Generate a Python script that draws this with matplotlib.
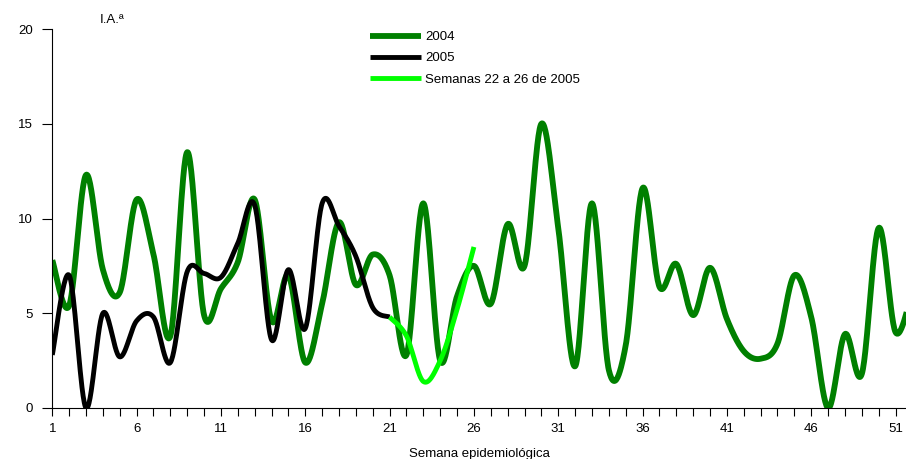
import numpy as np
import matplotlib
matplotlib.use("Agg")
import matplotlib.pyplot as plt

weeks_2004 = list(range(1, 53))
ia_2004 = [7.8, 5.4, 12.3, 7.3, 6.1, 11.0, 8.1, 3.8, 13.5, 4.9,
           6.3, 7.7, 11.0, 4.6, 7.0, 2.4, 5.5, 9.8, 6.5, 8.1,
           7.0, 2.8, 10.8, 2.5, 5.9, 7.5, 5.5, 9.7, 7.5, 15.0,
           9.5, 2.2, 10.8, 2.0, 3.3, 11.6, 6.4, 7.6, 4.9, 7.4,
           4.7, 3.0, 2.6, 3.4, 7.0, 4.8, 0.0, 3.9, 1.8, 9.5,
           4.0, 6.2]

weeks_2005 = list(range(1, 22))
ia_2005 = [2.8, 7.0, 0.0, 5.0, 2.7, 4.6, 4.8, 2.4, 7.2, 7.1,
           6.9, 8.7, 10.7, 3.6, 7.3, 4.2, 10.8, 9.6, 8.0, 5.3,
           4.8]

weeks_sem = [21, 22, 23, 24, 25, 26]
ia_sem = [4.8, 3.8, 1.4, 2.5, 5.2, 8.5]

labels = ["2004", "2005", "Semanas 22 a 26 de 2005"]
x_ticklabels = [1, 6, 11, 16, 21, 26, 31, 36, 41, 46, 51]
y_ticks = [0, 5, 10, 15, 20]


def smooth(xs, ys, n=30):
    """Catmull-Rom style Bezier smoothing through the given points."""
    P = np.column_stack([xs, ys]).astype(float)
    m = len(P)
    out = []
    for i in range(m - 1):
        p0 = P[i - 1] if i > 0 else P[i]
        p1 = P[i]
        p2 = P[i + 1]
        p3 = P[i + 2] if i + 2 < m else P[i + 1]
        b1 = p1 + (p2 - p0) / 6.0
        b2 = p2 - (p3 - p1) / 6.0
        t = np.linspace(0, 1, n)[:, None]
        seg = ((1 - t) ** 3) * p1 + 3 * ((1 - t) ** 2) * t * b1 + 3 * (1 - t) * t ** 2 * b2 + t ** 3 * p2
        out.append(seg if i == 0 else seg[1:])
    S = np.vstack(out)
    return S[:, 0], S[:, 1]


plt.rcParams['font.family'] = ['Liberation Sans', 'DejaVu Sans']
fig = plt.figure(figsize=(9.06, 4.59), dpi=100)
ax = fig.add_axes([52.3 / 906, 51 / 459, 1 - 52.3 / 906, 379 / 459])

x, y = smooth(weeks_2004, ia_2004)
ax.plot(x, y, color='#008000', lw=4.2, solid_capstyle='butt', label=labels[0], zorder=2)
x, y = smooth(weeks_2005, ia_2005)
ax.plot(x, y, color='#000000', lw=3.5, solid_capstyle='butt', label=labels[1], zorder=3)
x, y = smooth(weeks_sem, ia_sem)
ax.plot(x, y, color='#00ff00', lw=3.5, solid_capstyle='butt', label=labels[2], zorder=4)

ax.set_xlim(1, 51.62)
ax.set_ylim(0, 20)
ax.set_yticks(y_ticks)
ax.set_xticks(weeks_2004[:51], minor=True)
ax.set_xticks(x_ticklabels)
ax.tick_params(axis='x', which='both', direction='out', length=6, width=0.8, labelsize=9.5, pad=5)
ax.tick_params(axis='y', direction='out', length=7, width=0.8, labelsize=9.5, pad=7)
for s in ['top', 'right']:
    ax.spines[s].set_visible(False)
ax.spines['left'].set_linewidth(0.8)
ax.spines['bottom'].set_linewidth(0.8)
ax.patch.set_alpha(0)

ax.set_xlabel("Semana epidemiológica", fontsize=9.5, labelpad=9)
fig.text(100 / 906, 1 - 20 / 459, "I.A.ª", fontsize=9.5, va='center', ha='left')

leg = ax.legend(loc='upper left', bbox_to_anchor=(370 / 906, 1 - 31 / 459),
                bbox_transform=fig.transFigure, frameon=False, fontsize=9.5,
                handlelength=3.9, handletextpad=0.3, labelspacing=0.68,
                borderpad=0, borderaxespad=0)

fig.savefig("out.png", dpi=100)
